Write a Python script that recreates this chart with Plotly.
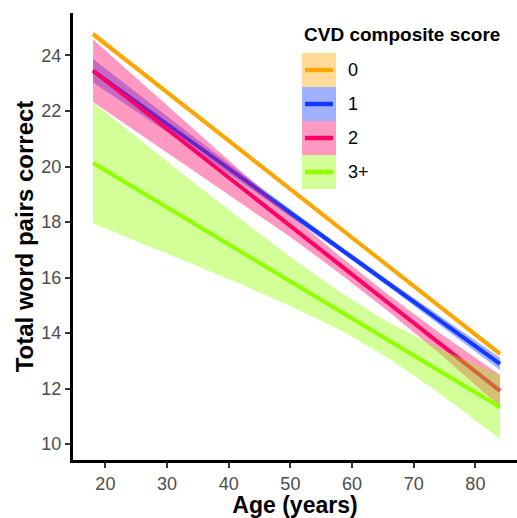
import plotly.graph_objects as go

# ---- data ----
ages = [18, 26, 34, 42, 50, 58, 66, 74, 84]
groups = ["0", "1", "2", "3+"]

fit_0 = [24.77, 23.37, 21.98, 20.58, 19.18, 17.79, 16.39, 14.99, 13.25]
hw_0 = [0.10, 0.08, 0.07, 0.06, 0.05, 0.05, 0.06, 0.07, 0.10]

fit_1 = [23.45, 22.17, 20.89, 19.61, 18.33, 17.05, 15.77, 14.49, 12.89]
hw_1 = [0.42, 0.32, 0.24, 0.17, 0.13, 0.11, 0.12, 0.16, 0.22]

fit_2 = [23.45, 22.05, 20.66, 19.26, 17.86, 16.46, 15.06, 13.67, 11.92]
hw_2 = [1.13, 0.94, 0.75, 0.57, 0.40, 0.31, 0.30, 0.37, 0.57]

fit_3 = [20.13, 19.06, 17.99, 16.93, 15.86, 14.80, 13.73, 12.66, 11.33]
hw_3 = [2.18, 1.83, 1.49, 1.17, 0.88, 0.68, 0.64, 0.80, 1.14]

x_ticks = [20, 30, 40, 50, 60, 70, 80]
y_ticks = [10, 12, 14, 16, 18, 20, 22, 24]

# ---- styles ----
colors = ["#FFA500", "#1139FF", "#FF0066", "#90FF00"]
fits = [fit_0, fit_1, fit_2, fit_3]
hws = [hw_0, hw_1, hw_2, hw_3]


def rgba(hexc, a):
    h = hexc.lstrip("#")
    r, g, b = int(h[0:2], 16), int(h[2:4], 16), int(h[4:6], 16)
    return f"rgba({r},{g},{b},{a})"


FONT = "Liberation Sans, Arial, sans-serif"
W, H = 517, 518
ML, MR, MT, MB = 73, 0, 13, 58

fig = go.Figure()
for g, c, f, hw in zip(groups, colors, fits, hws):
    lo = [a - b for a, b in zip(f, hw)]
    hi = [a + b for a, b in zip(f, hw)]
    fig.add_trace(go.Scatter(x=ages, y=lo, mode="lines", line=dict(width=0),
                             showlegend=False, hoverinfo="skip"))
    fig.add_trace(go.Scatter(x=ages, y=hi, mode="lines", line=dict(width=0),
                             fill="tonexty", fillcolor=rgba(c, 0.4),
                             showlegend=False, hoverinfo="skip"))
    fig.add_trace(go.Scatter(x=ages, y=f, mode="lines", name=g,
                             line=dict(color=c, width=4), showlegend=False))

# ---- manual legend (pixel -> paper) ----
pw, ph = W - ML - MR, H - MT - MB


def px(xp):
    return (xp - ML) / pw


def py(yp):
    return (H - MB - yp) / ph


shapes = []
annotations = []
annotations.append(dict(x=px(302), y=py(35), xref="paper", yref="paper",
                        text="<b>CVD composite score</b>", showarrow=False,
                        xanchor="left", yanchor="middle",
                        font=dict(family=FONT, size=19, color="black")))
box_top = 53
box_h = 34
for i, (g, c) in enumerate(zip(groups, colors)):
    y0 = box_top + i * box_h
    y1 = y0 + box_h
    shapes.append(dict(type="rect", xref="paper", yref="paper",
                       x0=px(302), x1=px(336), y0=py(y1), y1=py(y0),
                       fillcolor=rgba(c, 0.4), line=dict(width=0), layer="above"))
    yc = (y0 + y1) / 2
    shapes.append(dict(type="line", xref="paper", yref="paper",
                       x0=px(305), x1=px(333), y0=py(yc), y1=py(yc),
                       line=dict(color=c, width=4.5), layer="above"))
    annotations.append(dict(x=px(346), y=py(yc), xref="paper", yref="paper",
                            text=g, showarrow=False, xanchor="left",
                            yanchor="middle",
                            font=dict(family=FONT, size=18, color="black")))

fig.update_layout(
    width=W, height=H,
    margin=dict(l=ML, r=MR, t=MT, b=MB),
    paper_bgcolor="white", plot_bgcolor="white",
    showlegend=False,
    shapes=shapes, annotations=annotations,
    xaxis=dict(range=[14.75, 86.75], tickvals=x_ticks,
               ticktext=[str(v) for v in x_ticks],
               showgrid=False, zeroline=False,
               showline=True, linecolor="black", linewidth=3,
               ticks="outside", ticklen=5, tickwidth=2, tickcolor="#333333",
               tickfont=dict(family=FONT, size=18, color="#4D4D4D"),
               title=dict(text="<b>Age (years)</b>", standoff=8,
                          font=dict(family=FONT, size=23, color="black"))),
    yaxis=dict(range=[9.43, 25.53], tickvals=y_ticks,
               ticktext=[str(v) for v in y_ticks],
               showgrid=False, zeroline=False,
               showline=True, linecolor="black", linewidth=3,
               ticks="outside", ticklen=5, tickwidth=2, tickcolor="#333333",
               tickfont=dict(family=FONT, size=18, color="#4D4D4D"),
               title=dict(text="<b>Total word pairs correct</b>", standoff=1,
                          font=dict(family=FONT, size=24, color="black"))),
)

fig.write_html("out.html")
